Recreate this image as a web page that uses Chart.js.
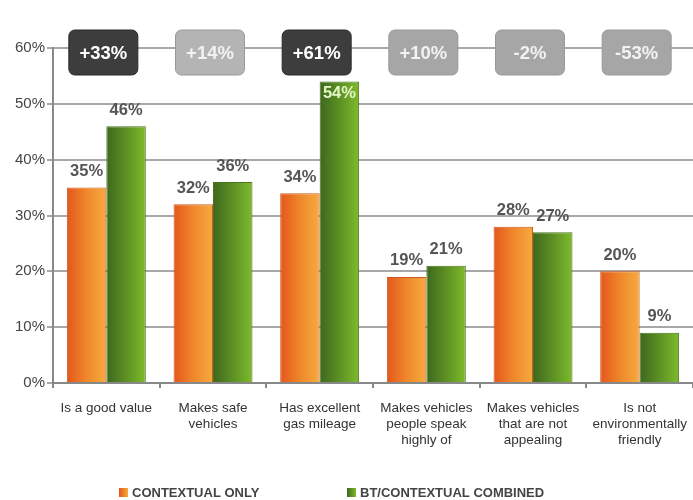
<!DOCTYPE html>
<html>
<head>
<meta charset="utf-8">
<title>Brand perception</title>
<script src="https://cdn.jsdelivr.net/npm/chart.js@4/dist/chart.umd.min.js"></script>
<style>
  html, body { margin: 0; padding: 0; background: #fff; }
  #wrap { width: 693px; height: 500px; }
</style>
</head>
<body>
<div id="wrap"><canvas id="chart" width="693" height="500"></canvas></div>
<script>
const categories = [
    ['Is a good value'],
    ['Makes safe', 'vehicles'],
    ['Has excellent', 'gas mileage'],
    ['Makes vehicles', 'people speak', 'highly of'],
    ['Makes vehicles', 'that are not', 'appealing'],
    ['Is not', 'environmentally', 'friendly']
];
const contextualOnly = [35, 32, 34, 19, 28, 20];
const btCombined = [46, 36, 54, 21, 27, 9];
const liftLabels = ['+33%', '+14%', '+61%', '+10%', '-2%', '-53%'];
const significant = [true, false, true, false, false, false];
const seriesNames = ['CONTEXTUAL ONLY', 'BT/CONTEXTUAL COMBINED'];
const yTicks = [0, 10, 20, 30, 40, 50, 60];

const FONT = '"Liberation Sans", Arial, Helvetica, sans-serif';
const CAT_PCT = 0.74;

const fills = [
    ['#e4561b', '#ef872b', '#f6ab3f'],
    ['#3e681d', '#5c9024', '#7fbb2c']
];
const edges = ['#cf5a1f', '#4b7421'];

function barFill(context) {
    const chart = context.chart;
    const area = chart.chartArea;
    const stops = fills[context.datasetIndex];
    if (!area || context.dataIndex === undefined) return stops[1];
    const center = chart.scales.x.getPixelForValue(context.dataIndex);
    const w = (area.right - area.left) / categories.length * CAT_PCT / 2;
    const x0 = context.datasetIndex === 0 ? center - w : center;
    const g = chart.ctx.createLinearGradient(x0, 0, x0 + w, 0);
    g.addColorStop(0, stops[0]);
    g.addColorStop(0.5, stops[1]);
    g.addColorStop(1, stops[2]);
    return g;
}

// value labels above each bar, tucked inside when they would hit the badges
const valueLabels = {
    id: 'valueLabels',
    afterDatasetsDraw(chart) {
        const ctx = chart.ctx;
        ctx.save();
        ctx.font = 'bold 16.5px ' + FONT;
        ctx.textAlign = 'center';
        ctx.textBaseline = 'middle';
        chart.data.datasets.forEach((ds, di) => {
            chart.getDatasetMeta(di).data.forEach((bar, i) => {
                const v = ds.data[i];
                if (v > 50) {
                    ctx.fillStyle = '#e4f6c8';
                    ctx.fillText(v + '%', bar.x, bar.y + 12);
                } else {
                    ctx.fillStyle = '#555';
                    ctx.fillText(v + '%', bar.x, bar.y - 16);
                }
            });
        });
        ctx.restore();
    }
};

// lift badges sitting on the top gridline
const liftBadges = {
    id: 'liftBadges',
    afterDraw(chart) {
        const ctx = chart.ctx;
        const xs = chart.scales.x;
        const top = chart.chartArea.top;
        ctx.save();
        ctx.font = 'bold 18.5px ' + FONT;
        ctx.textAlign = 'center';
        ctx.textBaseline = 'middle';
        liftLabels.forEach((txt, i) => {
            const cx = xs.getPixelForValue(i) - 3;
            const bw = 69, bh = 45;
            const x = cx - bw / 2, y = top - 18;
            ctx.beginPath();
            ctx.roundRect(x, y, bw, bh, 6);
            ctx.fillStyle = significant[i] ? '#3d3d3d' : (i === 1 ? '#b4b4b4' : '#a6a6a6');
            ctx.fill();
            ctx.lineWidth = 1;
            ctx.strokeStyle = significant[i] ? '#2a2a2a' : '#999';
            ctx.stroke();
            ctx.fillStyle = significant[i] ? '#ffffff' : '#f2f2f2';
            ctx.fillText(txt, cx, y + bh / 2 + 1);
        });
        ctx.restore();
    }
};

// legend row at the bottom
const bottomLegend = {
    id: 'bottomLegend',
    afterDraw(chart) {
        const ctx = chart.ctx;
        const starts = [119, 347];
        const y = 493;
        ctx.save();
        ctx.font = 'bold 13px ' + FONT;
        ctx.textBaseline = 'middle';
        ctx.textAlign = 'left';
        seriesNames.forEach((name, i) => {
            const g = ctx.createLinearGradient(starts[i], 0, starts[i] + 9, 0);
            g.addColorStop(0, fills[i][0]);
            g.addColorStop(1, fills[i][2]);
            ctx.fillStyle = g;
            ctx.fillRect(starts[i], y - 5, 9, 9);
            ctx.fillStyle = '#444';
            ctx.fillText(name, starts[i] + 13, y);
        });
        ctx.restore();
    }
};

new Chart(document.getElementById('chart'), {
    type: 'bar',
    data: {
        labels: categories,
        datasets: [
            {
                label: seriesNames[0],
                data: contextualOnly,
                backgroundColor: barFill,
                borderColor: edges[0],
                borderWidth: 1
            },
            {
                label: seriesNames[1],
                data: btCombined,
                backgroundColor: barFill,
                borderColor: edges[1],
                borderWidth: 1
            }
        ]
    },
    options: {
        responsive: false,
        animation: false,
        events: [],
        datasets: {
            bar: { categoryPercentage: CAT_PCT, barPercentage: 1 }
        },
        layout: { padding: { top: 48, right: 0, bottom: 47, left: 0 } },
        plugins: {
            legend: { display: false },
            tooltip: { enabled: false }
        },
        scales: {
            x: {
                offset: true,
                grid: { offset: true, drawOnChartArea: false, tickLength: 5, color: '#888', lineWidth: 2 },
                border: { color: '#888', width: 2 },
                ticks: {
                    color: '#333',
                    font: { family: FONT, size: 13.5, lineHeight: 1.2 },
                    padding: 12,
                    maxRotation: 0,
                    autoSkip: false
                },
                afterFit(scale) {
                    scale.height = 70;
                    scale.paddingLeft = 0;
                    scale.paddingRight = 0;
                }
            },
            y: {
                min: 0,
                max: 60,
                afterBuildTicks(scale) { scale.ticks = yTicks.map(v => ({ value: v })); },
                grid: { color: '#a8a8a8', lineWidth: 2, tickLength: 6 },
                border: { color: '#888', width: 2 },
                ticks: {
                    color: '#444',
                    font: { family: FONT, size: 15 },
                    padding: 2,
                    callback: v => v + '%'
                },
                afterFit(scale) { scale.width = 53; }
            }
        }
    },
    plugins: [valueLabels, liftBadges, bottomLegend]
});
</script>
</body>
</html>
